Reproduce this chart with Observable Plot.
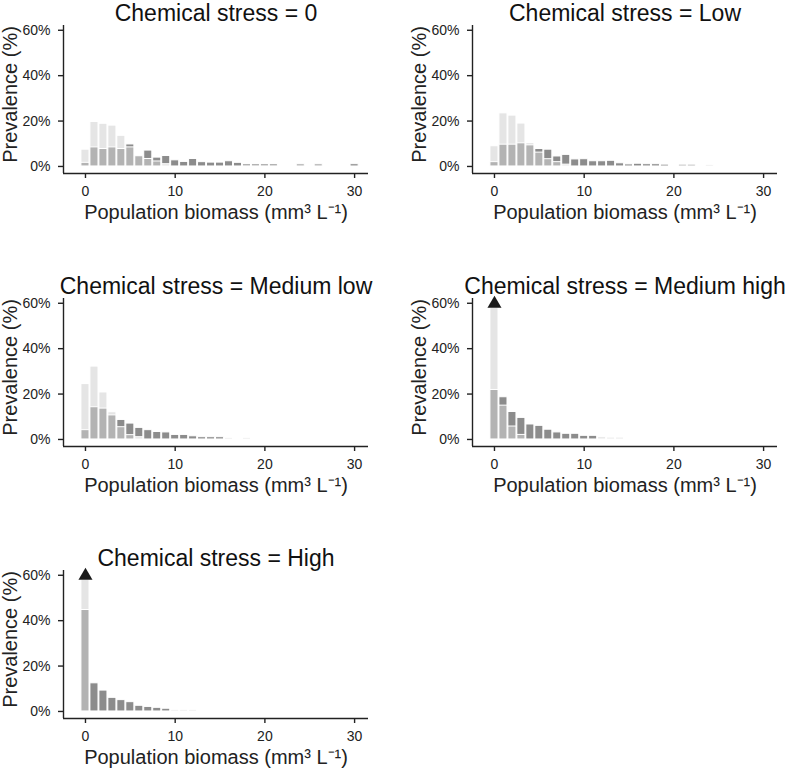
<!DOCTYPE html>
<html><head><meta charset="utf-8">
<script src="https://cdn.jsdelivr.net/npm/d3@7"></script>
<script src="https://cdn.jsdelivr.net/npm/@observablehq/plot@0.6"></script>
<style>
html,body{margin:0;padding:0;background:#fff;overflow:hidden;}
#chart{position:relative;width:787px;height:772px;font-family:"Liberation Sans",Arial,sans-serif;}
.panel{position:absolute;}
</style></head><body><div id="chart"></div>
<script>
// ---- data ----
const panels = ["0", "Low", "Medium low", "Medium high", "High"];
const bins = [0,1,2,3,4,5,6,7,8,9,10,11,12,13,14,15,16,17,18,19,20,21,22,23,24,25,26,27,28,29,30];
const xTicks = [0, 10, 20, 30];
const yTicks = [0, 20, 40, 60];
const seriesOrder = ["dark", "light", "medium"];          // drawing order
const seriesColors = ["#8c8c8c", "#e5e5e5", "#b3b3b3"];

const dark0   = [0,0,0,0,0,9.7,0,7.0,3.9,4.6,2.7,2.0,3.3,1.9,1.7,1.7,2.3,1.6,0,0,0,0,0,0,0,0,0,0,0,0,1.0];
const light0  = [7.4,19.6,18.8,18.0,13.5,0,0,0,0,1.0,0,0,0,0,0,0,0,0,0,0,0,0,0,0,0,0,0,0,0,0,0];
const medium0 = [1.6,8.4,7.7,8.4,7.7,8.4,4.5,3.3,2.2,0,0,0,0,0,0,0,0,0,1.1,1.1,1.1,1.1,0,0,1.0,0,1.0,0,0,0,0];

const dark1   = [0,0,0,0,0,7.7,7.4,4.4,5.1,3.1,3.2,2.3,2.3,2.5,1.4,0.9,1.2,1.0,1.0,0.8,0,0,0,0,0,0,0,0,0,0,0];
const light1  = [8.9,23.4,22.4,18.9,10.3,0,0,0,0.8,0,0,0,0,0,0,0,0,0,0,0,0,0,0,0,0.7,0,0,0,0,0,0];
const medium1 = [1.9,9.6,9.6,10.2,9.3,6.1,3.2,1.9,0,0,0,0,0,0,0,0,0,0,0,0,0,0.8,0.8,0,0,0,0,0,0,0,0];

const dark2   = [0,0,0,0,8.6,7.0,5.1,4.1,3.3,3.1,2.0,2.0,1.4,1.0,1.0,1.0,0,0,0,0,0,0,0,0,0,0,0,0,0,0,0];
const light2  = [24.4,32.1,20.7,12.0,0,0,1.0,0,0,0,0,0,0,0,0,0,0.7,0,0.7,0,0,0,0,0,0,0,0,0,0,0,0];
const medium2 = [4.1,14.2,13.6,10.6,5.4,1.9,0,0,0,0,0,0,0,0,0,0,0,0,0,0,0,0,0,0,0,0,0,0,0,0,0];

const dark3   = [0,18.6,12.1,9.5,6.6,6.0,4.3,3.1,2.5,2.5,1.6,1.6,0,0,0,0,0,0,0,0,0,0,0,0,0,0,0,0,0,0,0];
const light3  = [95,0,0,0,0,0,0,0,0,0,0,0,1.0,0.8,0.8,0,0,0,0,0,0,0,0,0,0,0,0,0,0,0,0];
const medium3 = [21.8,14.9,5.7,2.0,0,0,0,0,0,0,0,0,0,0,0,0,0,0,0,0,0,0,0,0,0,0,0,0,0,0,0];

const dark4   = [0,12.4,9.2,6.0,5.0,4.1,2.5,2.0,1.6,1.2,0,0,0,0,0,0,0,0,0,0,0,0,0,0,0,0,0,0,0,0,0];
const light4  = [97,0,0,0,0,0,0,0,0,0,0.7,0.7,0.7,0,0,0,0,0,0,0,0,0,0,0,0,0,0,0,0,0,0];
const medium4 = [44.7,0,0,0,0,0,0,0,0,0,0,0,0,0,0,0,0,0,0,0,0,0,0,0,0,0,0,0,0,0,0];

const values = [
  {dark: dark0, light: light0, medium: medium0},
  {dark: dark1, light: light1, medium: medium1},
  {dark: dark2, light: light2, medium: medium2},
  {dark: dark3, light: light3, medium: medium3},
  {dark: dark4, light: light4, medium: medium4}
];

const xLabel = "Population biomass (mm³ L⁻¹)";
const yLabel = "Prevalence (%)";

// ---- layout ----
const W = 378, H = 235;
const xDomain = [-2.45, 31.55], yDomain = [-3.1, 62.1];
const CAP = 58;      // bars above the axis limit are cut here and flagged
const LIMIT = 60;
const font = '"Liberation Sans", Arial, sans-serif';
const chart = document.getElementById("chart");

panels.forEach((name, i) => {
  const col = i % 2, row = Math.floor(i / 2);
  const rows = [];
  seriesOrder.forEach(s => values[i][s].forEach((v, j) => {
    if (v > 0) rows.push({bin: bins[j], series: s, v});
  }));
  const plot = Plot.plot({
    width: W, height: H,
    marginLeft: 63, marginRight: 10, marginTop: 25, marginBottom: H - 173,
    x: {domain: xDomain},
    y: {domain: yDomain},
    color: {domain: seriesOrder, range: seriesColors},
    style: {fontFamily: font, background: "white", color: "#222", overflow: "visible"},
    marks: [
      Plot.rect(rows, {
        x1: d => d.bin - 0.45, x2: d => d.bin + 0.45,
        y1: 0, y2: d => Math.min(d.v, CAP),
        fill: "series", stroke: "white", strokeWidth: 1
      }),
      Plot.dot(rows.filter(d => d.v > LIMIT), {
        x: "bin", y: () => CAP, dy: -4, symbol: "triangle", r: 5.2, fill: "#1a1a1a", stroke: "none"
      }),
      Plot.ruleX([xDomain[0]], {stroke: "#222", strokeWidth: 1.4}),
      Plot.ruleY([yDomain[0]], {stroke: "#222", strokeWidth: 1.4}),
      Plot.axisX({ticks: xTicks, tickSize: 5, tickPadding: 8, fontSize: 14, strokeWidth: 1.4, label: null, tickFormat: d => String(d)}),
      Plot.axisY({ticks: yTicks, tickSize: 5, tickPadding: 8, fontSize: 14, strokeWidth: 1.4, label: null, tickFormat: d => d + "%"}),
      Plot.text([`Chemical stress = ${name}`], {text: d => d, frameAnchor: "top", dy: -12, textAnchor: "middle", lineAnchor: "middle", fontSize: 23, fill: "#111"}),
      Plot.text([xLabel], {text: d => d, frameAnchor: "bottom", dy: 39, textAnchor: "middle", lineAnchor: "middle", fontSize: 20, fill: "#222"}),
      Plot.text([yLabel], {text: d => d, frameAnchor: "left", dx: -53, dy: -5, rotate: -90, textAnchor: "middle", lineAnchor: "middle", fontSize: 20, fill: "#222"})
    ]
  });
  const div = document.createElement("div");
  div.className = "panel";
  div.style.left = (col * 409) + "px";
  div.style.top = (row * 272.5) + "px";
  div.style.width = W + "px";
  div.appendChild(plot);
  chart.appendChild(div);
});
</script></body></html>
